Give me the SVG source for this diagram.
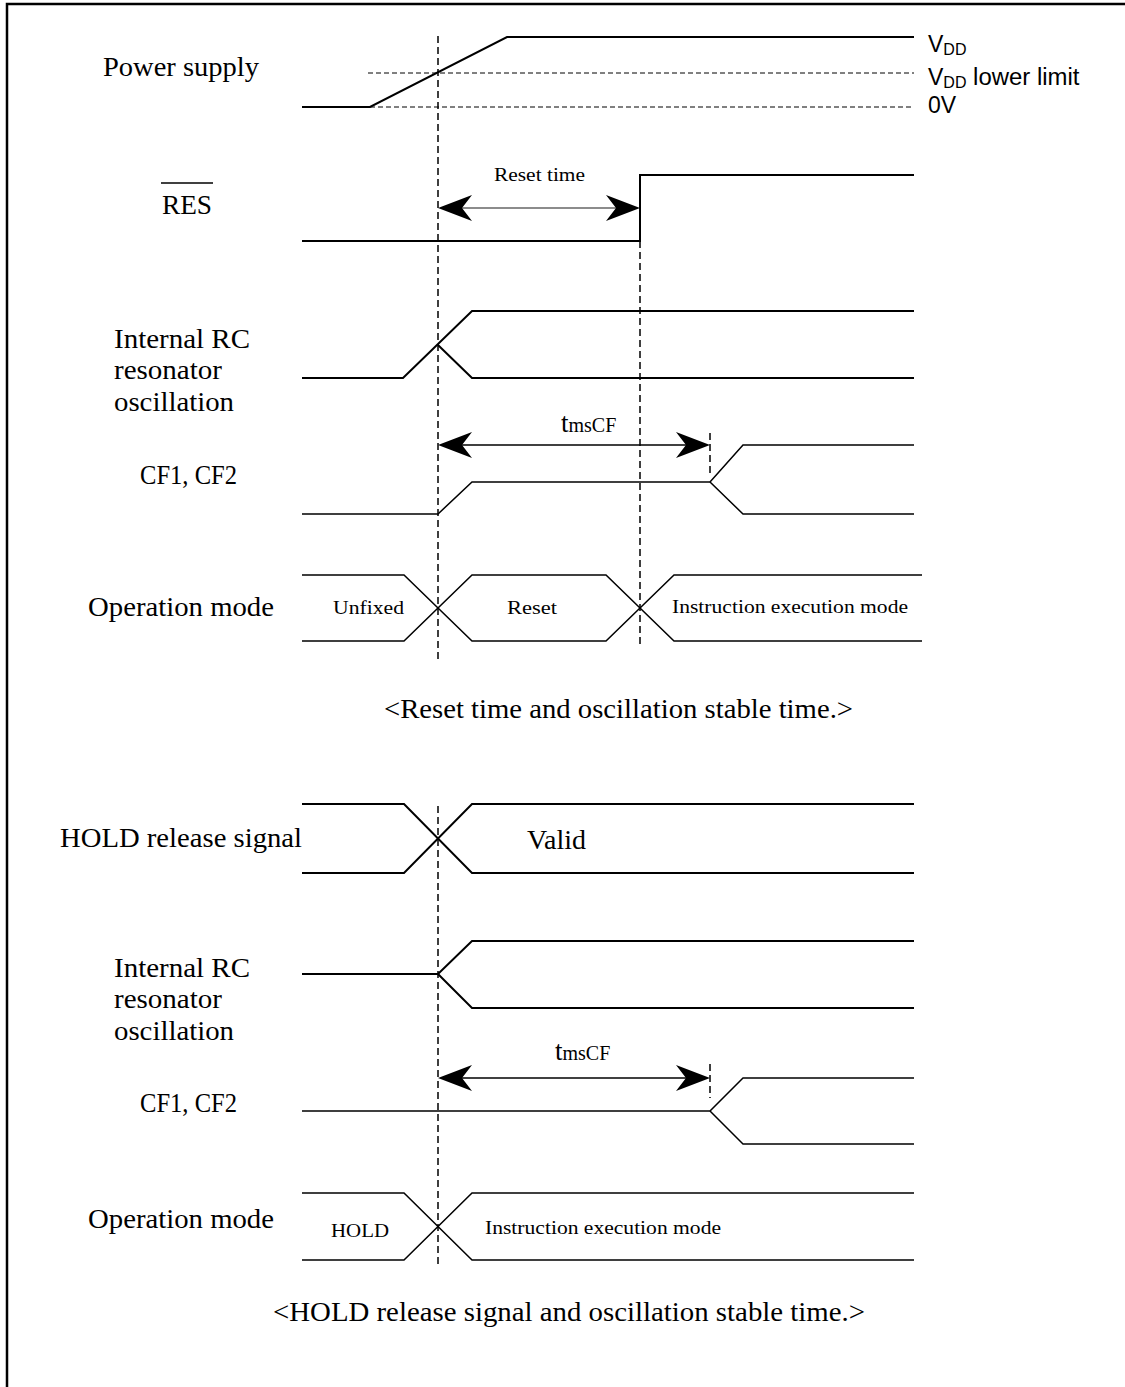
<svg xmlns="http://www.w3.org/2000/svg" width="1125" height="1387" viewBox="0 0 1125 1387">
<style>
.sig{fill:none;stroke:#000;stroke-width:2}
.thin{fill:none;stroke:#000;stroke-width:1.5}
.dash{fill:none;stroke:#000;stroke-width:1.5;stroke-dasharray:7,4}
.hdash{fill:none;stroke:#000;stroke-width:1;stroke-dasharray:5,3}
.lbl{font-family:"Liberation Serif","Times New Roman",serif;font-size:27px;fill:#000}
.sm{font-family:"Liberation Serif","Times New Roman",serif;font-size:19px;fill:#000}
.cap{font-family:"Liberation Serif","Times New Roman",serif;font-size:27px;fill:#000}
.sans{font-family:"Liberation Sans",Arial,sans-serif;font-size:23px;fill:#000}
.ah{fill:#000;stroke:none}
</style>
<rect width="1125" height="1387" fill="#fff"/>
<g id="frame"><path d="M7,1387 V4 H1125" fill="none" stroke="#000" stroke-width="2.5"/></g>

<g id="labels">
<text class="lbl" x="103" y="76" textLength="156" lengthAdjust="spacingAndGlyphs">Power supply</text>
<text class="lbl" x="162" y="214" textLength="50" lengthAdjust="spacingAndGlyphs">RES</text>
<line x1="161" y1="183" x2="213" y2="183" stroke="#000" stroke-width="1.5"/>
<text class="lbl" x="114" y="348" textLength="136" lengthAdjust="spacingAndGlyphs">Internal RC</text>
<text class="lbl" x="114" y="379" textLength="108" lengthAdjust="spacingAndGlyphs">resonator</text>
<text class="lbl" x="114" y="411" textLength="120" lengthAdjust="spacingAndGlyphs">oscillation</text>
<text class="lbl" x="140" y="484" textLength="97" lengthAdjust="spacingAndGlyphs">CF1, CF2</text>
<text class="lbl" x="88" y="616" textLength="186" lengthAdjust="spacingAndGlyphs">Operation mode</text>
<text class="cap" x="384" y="718" textLength="469" lengthAdjust="spacingAndGlyphs">&lt;Reset time and oscillation stable time.&gt;</text>
<text class="lbl" x="60" y="847" textLength="242" lengthAdjust="spacingAndGlyphs">HOLD release signal</text>
<text class="lbl" x="114" y="977" textLength="136" lengthAdjust="spacingAndGlyphs">Internal RC</text>
<text class="lbl" x="114" y="1008" textLength="108" lengthAdjust="spacingAndGlyphs">resonator</text>
<text class="lbl" x="114" y="1040" textLength="120" lengthAdjust="spacingAndGlyphs">oscillation</text>
<text class="lbl" x="140" y="1112" textLength="97" lengthAdjust="spacingAndGlyphs">CF1, CF2</text>
<text class="lbl" x="88" y="1228" textLength="186" lengthAdjust="spacingAndGlyphs">Operation mode</text>
<text class="cap" x="273" y="1321" textLength="592" lengthAdjust="spacingAndGlyphs">&lt;HOLD release signal and oscillation stable time.&gt;</text>
<text class="sans" x="928" y="52">V<tspan font-size="16" dy="3">DD</tspan></text>
<text class="sans" x="928" y="85">V<tspan font-size="16" dy="3">DD</tspan><tspan dy="-3" textLength="113" lengthAdjust="spacingAndGlyphs"> lower limit</tspan></text>
<text class="sans" x="928" y="113">0V</text>
</g>

<g id="power-supply">
<path class="sig" d="M302,107 H370 L507,37 H914"/>
<line class="hdash" x1="368" y1="73" x2="914" y2="73"/>
<line class="hdash" x1="370" y1="107" x2="914" y2="107"/>
</g>

<g id="res">
<path class="sig" d="M302,241 H640 V175 H914"/>
<text class="sm" x="494" y="181" textLength="91" lengthAdjust="spacingAndGlyphs">Reset time</text>
<line x1="445" y1="208" x2="633" y2="208" stroke="#666" stroke-width="1.5"/>
<path class="ah" d="M438,208 L472,195 L462,208 L472,221 Z"/>
<path class="ah" d="M640,208 L606,195 L616,208 L606,221 Z"/>
</g>

<g id="rc1">
<path class="sig" d="M302,378 H403 L472,311 H914"/>
<path class="sig" d="M438,345 L472,378 H914"/>
</g>

<g id="cf1">
<text class="lbl" x="561" y="432" font-size="28">t<tspan font-size="20">msCF</tspan></text>
<line class="thin" x1="445" y1="445" x2="703" y2="445"/>
<path class="ah" d="M438,445 L472,432 L462,445 L472,458 Z"/>
<path class="ah" d="M710,445 L676,432 L686,445 L676,458 Z"/>
<line class="dash" x1="710" y1="433" x2="710" y2="476"/>
<path class="thin" d="M302,514 H438 L472,482 H710 L743,445 H914"/>
<path class="thin" d="M710,482 L743,514 H914"/>
</g>

<g id="opmode1">
<path class="thin" d="M302,575 H404 L472,641 H606 L674,575 H922"/>
<path class="thin" d="M302,641 H404 L472,575 H606 L674,641 H922"/>
<text class="sm" x="333" y="614" textLength="71" lengthAdjust="spacingAndGlyphs">Unfixed</text>
<text class="sm" x="507" y="614" textLength="50" lengthAdjust="spacingAndGlyphs">Reset</text>
<text class="sm" x="672" y="613" textLength="236" lengthAdjust="spacingAndGlyphs">Instruction execution mode</text>
</g>

<g id="hold-release">
<path class="sig" d="M302,804 H404 L472,873 H914"/>
<path class="sig" d="M302,873 H404 L472,804 H914"/>
<text class="lbl" x="527" y="849" textLength="59" lengthAdjust="spacingAndGlyphs">Valid</text>
</g>

<g id="rc2">
<path class="sig" d="M302,974 H438 L472,941 H914"/>
<path class="sig" d="M438,974 L472,1008 H914"/>
</g>

<g id="cf2">
<text class="lbl" x="555" y="1060" font-size="28">t<tspan font-size="20">msCF</tspan></text>
<line class="thin" x1="445" y1="1078" x2="703" y2="1078"/>
<path class="ah" d="M438,1078 L472,1065 L462,1078 L472,1091 Z"/>
<path class="ah" d="M710,1078 L676,1065 L686,1078 L676,1091 Z"/>
<line class="dash" x1="710" y1="1064" x2="710" y2="1098"/>
<path class="thin" d="M302,1111 H710 L743,1078 H914"/>
<path class="thin" d="M710,1111 L743,1144 H914"/>
</g>

<g id="opmode2">
<path class="thin" d="M302,1193 H404 L472,1260 H914"/>
<path class="thin" d="M302,1260 H404 L472,1193 H914"/>
<text class="sm" x="331" y="1237" textLength="58" lengthAdjust="spacingAndGlyphs">HOLD</text>
<text class="sm" x="485" y="1234" textLength="236" lengthAdjust="spacingAndGlyphs">Instruction execution mode</text>
</g>

<g id="connectors">
<line class="dash" x1="438" y1="36" x2="438" y2="660"/>
<line class="dash" x1="640" y1="241" x2="640" y2="645"/>
<line class="dash" x1="438" y1="806" x2="438" y2="1268"/>
</g>
</svg>
